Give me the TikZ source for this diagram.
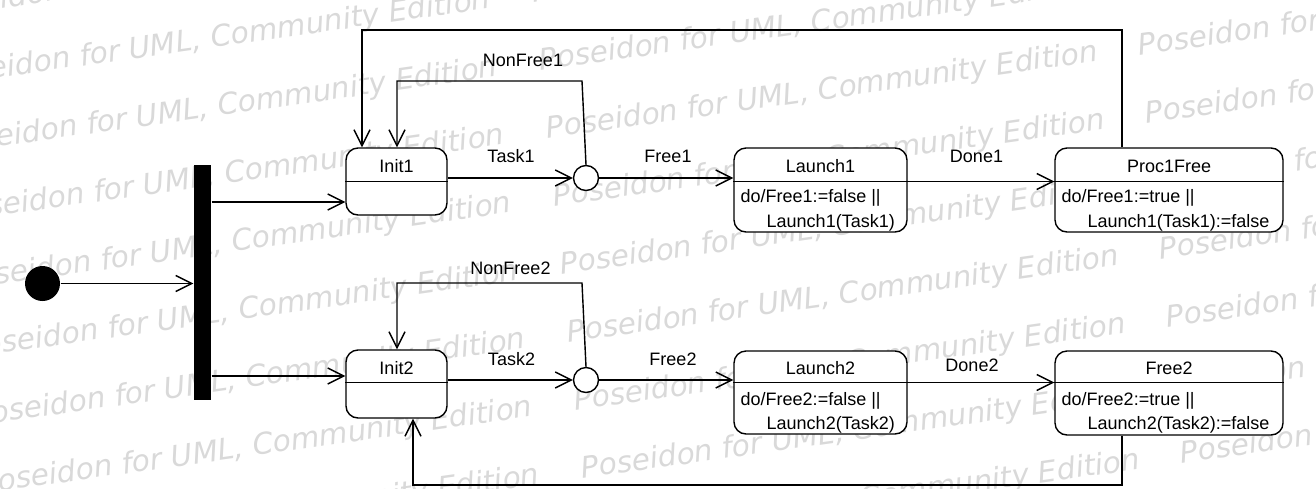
\documentclass[tikz,border=0pt]{standalone}
\usepackage{fontspec}
\setmainfont{Liberation Sans}
\newfontfamily\wmfont{DejaVu Sans}
\usetikzlibrary{arrows.meta, calc}

\newcommand{\wmtext}{Poseidon for UML, Community Edition\hspace{1.4em}\null}

\begin{document}
\begin{tikzpicture}[x=1pt, y=-1pt, inner sep=0pt, line width=1.4pt,
	font=\fontsize{18}{20}\selectfont,
	>={Straight Barb[length=16pt, width=16pt]},
	state/.style={draw, fill=white, rounded corners=12pt},
	choice/.style={draw, fill=white, circle, minimum size=25pt},
	wmark/.style={text=black!15, font=\wmfont\itshape\fontsize{29.5}{30}\selectfont, rotate=8}]
	\useasboundingbox (0,0) rectangle (1316,488);
	% watermark
	\begin{scope}
		\clip (0,0) rectangle (1316,488);
		\foreach \k in {-2,...,8} {
			\node[wmark, anchor=base west] at ({540+7*\k}, {70.5+68*\k}) {\wmtext\wmtext};
			\node[wmark, anchor=base east] at ({540+7*\k}, {70.5+68*\k}) {\wmtext\wmtext};
		}
	\end{scope}

	\coordinate (div1) at (0,181.5);
	\coordinate (div2) at (0,382.5);
	\coordinate (in1) at (0,202);
	\coordinate (in2) at (0,376);
	\coordinate (nf1) at (582,81);
	\coordinate (nf1e) at (397,81);
	\coordinate (nf2) at (582,283);
	\coordinate (nf2e) at (397,283);
	\coordinate (back1) at (1122,30);
	\coordinate (back1e) at (362,30);
	\coordinate (back2) at (1122,485);
	\coordinate (back2e) at (413,485);

	\node[circle, fill, minimum size=35pt] (start) at (42.5,283.5) {};
	\node[fill, minimum width=17pt, minimum height=235pt] (fork) at (202.5,282.5) {};

	\node[state, minimum width=101pt, minimum height=67pt] (init1) at (396.5,181.5) {};
	\node[state, minimum width=101pt, minimum height=68pt] (init2) at (396.5,384) {};
	\node[state, minimum width=173pt, minimum height=84pt] (launch1) at (820.5,190) {};
	\node[state, minimum width=173pt, minimum height=83pt] (launch2) at (820.5,392.5) {};
	\node[state, minimum width=228pt, minimum height=84pt] (proc1) at (1169,190) {};
	\node[state, minimum width=228pt, minimum height=84pt] (free2) at (1169,393) {};
	\node[choice] (c1) at (586,178) {};
	\node[choice] (c2) at (586,380) {};

	\foreach \n in {init1, launch1, proc1}
		\draw (\n.west |- div1) -- (\n.east |- div1);
	\foreach \n in {init2, launch2, free2}
		\draw (\n.west |- div2) -- (\n.east |- div2);

	\node[anchor=base] (init1name) at (396.5,172) {Init1};
	\node[anchor=base] (init2name) at (396.5,374.5) {Init2};
	\node[anchor=base] (launch1name) at (820.5,172.5) {Launch1};
	\node[anchor=base] (launch2name) at (820.5,374.5) {Launch2};
	\node[anchor=base] (proc1name) at (1169,172.5) {Proc1Free};
	\node[anchor=base] (free2name) at (1169,374.5) {Free2};
	\node[anchor=base west] (launch1do) at (740,202.5) {do/Free1:=false ||};
	\node[anchor=base west] (launch1go) at (766,227) {Launch1(Task1)};
	\node[anchor=base west] (launch2do) at (740,405.5) {do/Free2:=false ||};
	\node[anchor=base west] (launch2go) at (766,429) {Launch2(Task2)};
	\node[anchor=base west] (proc1do) at (1061,202.5) {do/Free1:=true ||};
	\node[anchor=base west] (proc1go) at (1087,227) {Launch1(Task1):=false};
	\node[anchor=base west] (free2do) at (1061,405.5) {do/Free2:=true ||};
	\node[anchor=base west] (free2go) at (1087,429) {Launch2(Task2):=false};

	\draw [->] (start) -- (start -| fork.west);
	\draw [->] (fork.east |- in1) -- (init1.west |- in1);
	\draw [->] (fork.east |- in2) -- (init2.west |- in2);
	\draw [->] (init1.east |- c1) -- (c1);
	\draw [->] (init2.east |- c2) -- (c2);
	\draw [->] (c1) -- (c1 -| launch1.west);
	\draw [->] (c2) -- (c2 -| launch2.west);
	\draw [->] (launch1.east |- div1) -- (proc1.west |- div1);
	\draw [->] (launch2.east |- div2) -- (free2.west |- div2);
	\draw [->] (c1.north) -- (nf1) -- (nf1e) -- (nf1e |- init1.north);
	\draw [->] (c2.north) -- (nf2) -- (nf2e) -- (nf2e |- init2.north);
	\draw [->] (back1 |- proc1.north) -- (back1) -- (back1e) -- (back1e |- init1.north);
	\draw [->] (back2 |- free2.south) -- (back2) -- (back2e) -- (back2e |- init2.south);

	\node[anchor=base] (task1) at (511,162) {Task1};
	\node[anchor=base] (task2) at (511.5,365.5) {Task2};
	\node[anchor=base] (nonfree1) at (523,66) {NonFree1};
	\node[anchor=base] (nonfree2) at (510.5,274.5) {NonFree2};
	\node[anchor=base] (free1) at (668,162.5) {Free1};
	\node[anchor=base] (free2lbl) at (673,365.5) {Free2};
	\node[anchor=base] (done1) at (976.5,162.5) {Done1};
	\node[anchor=base] (done2) at (972,371) {Done2};
\end{tikzpicture}
\end{document}
